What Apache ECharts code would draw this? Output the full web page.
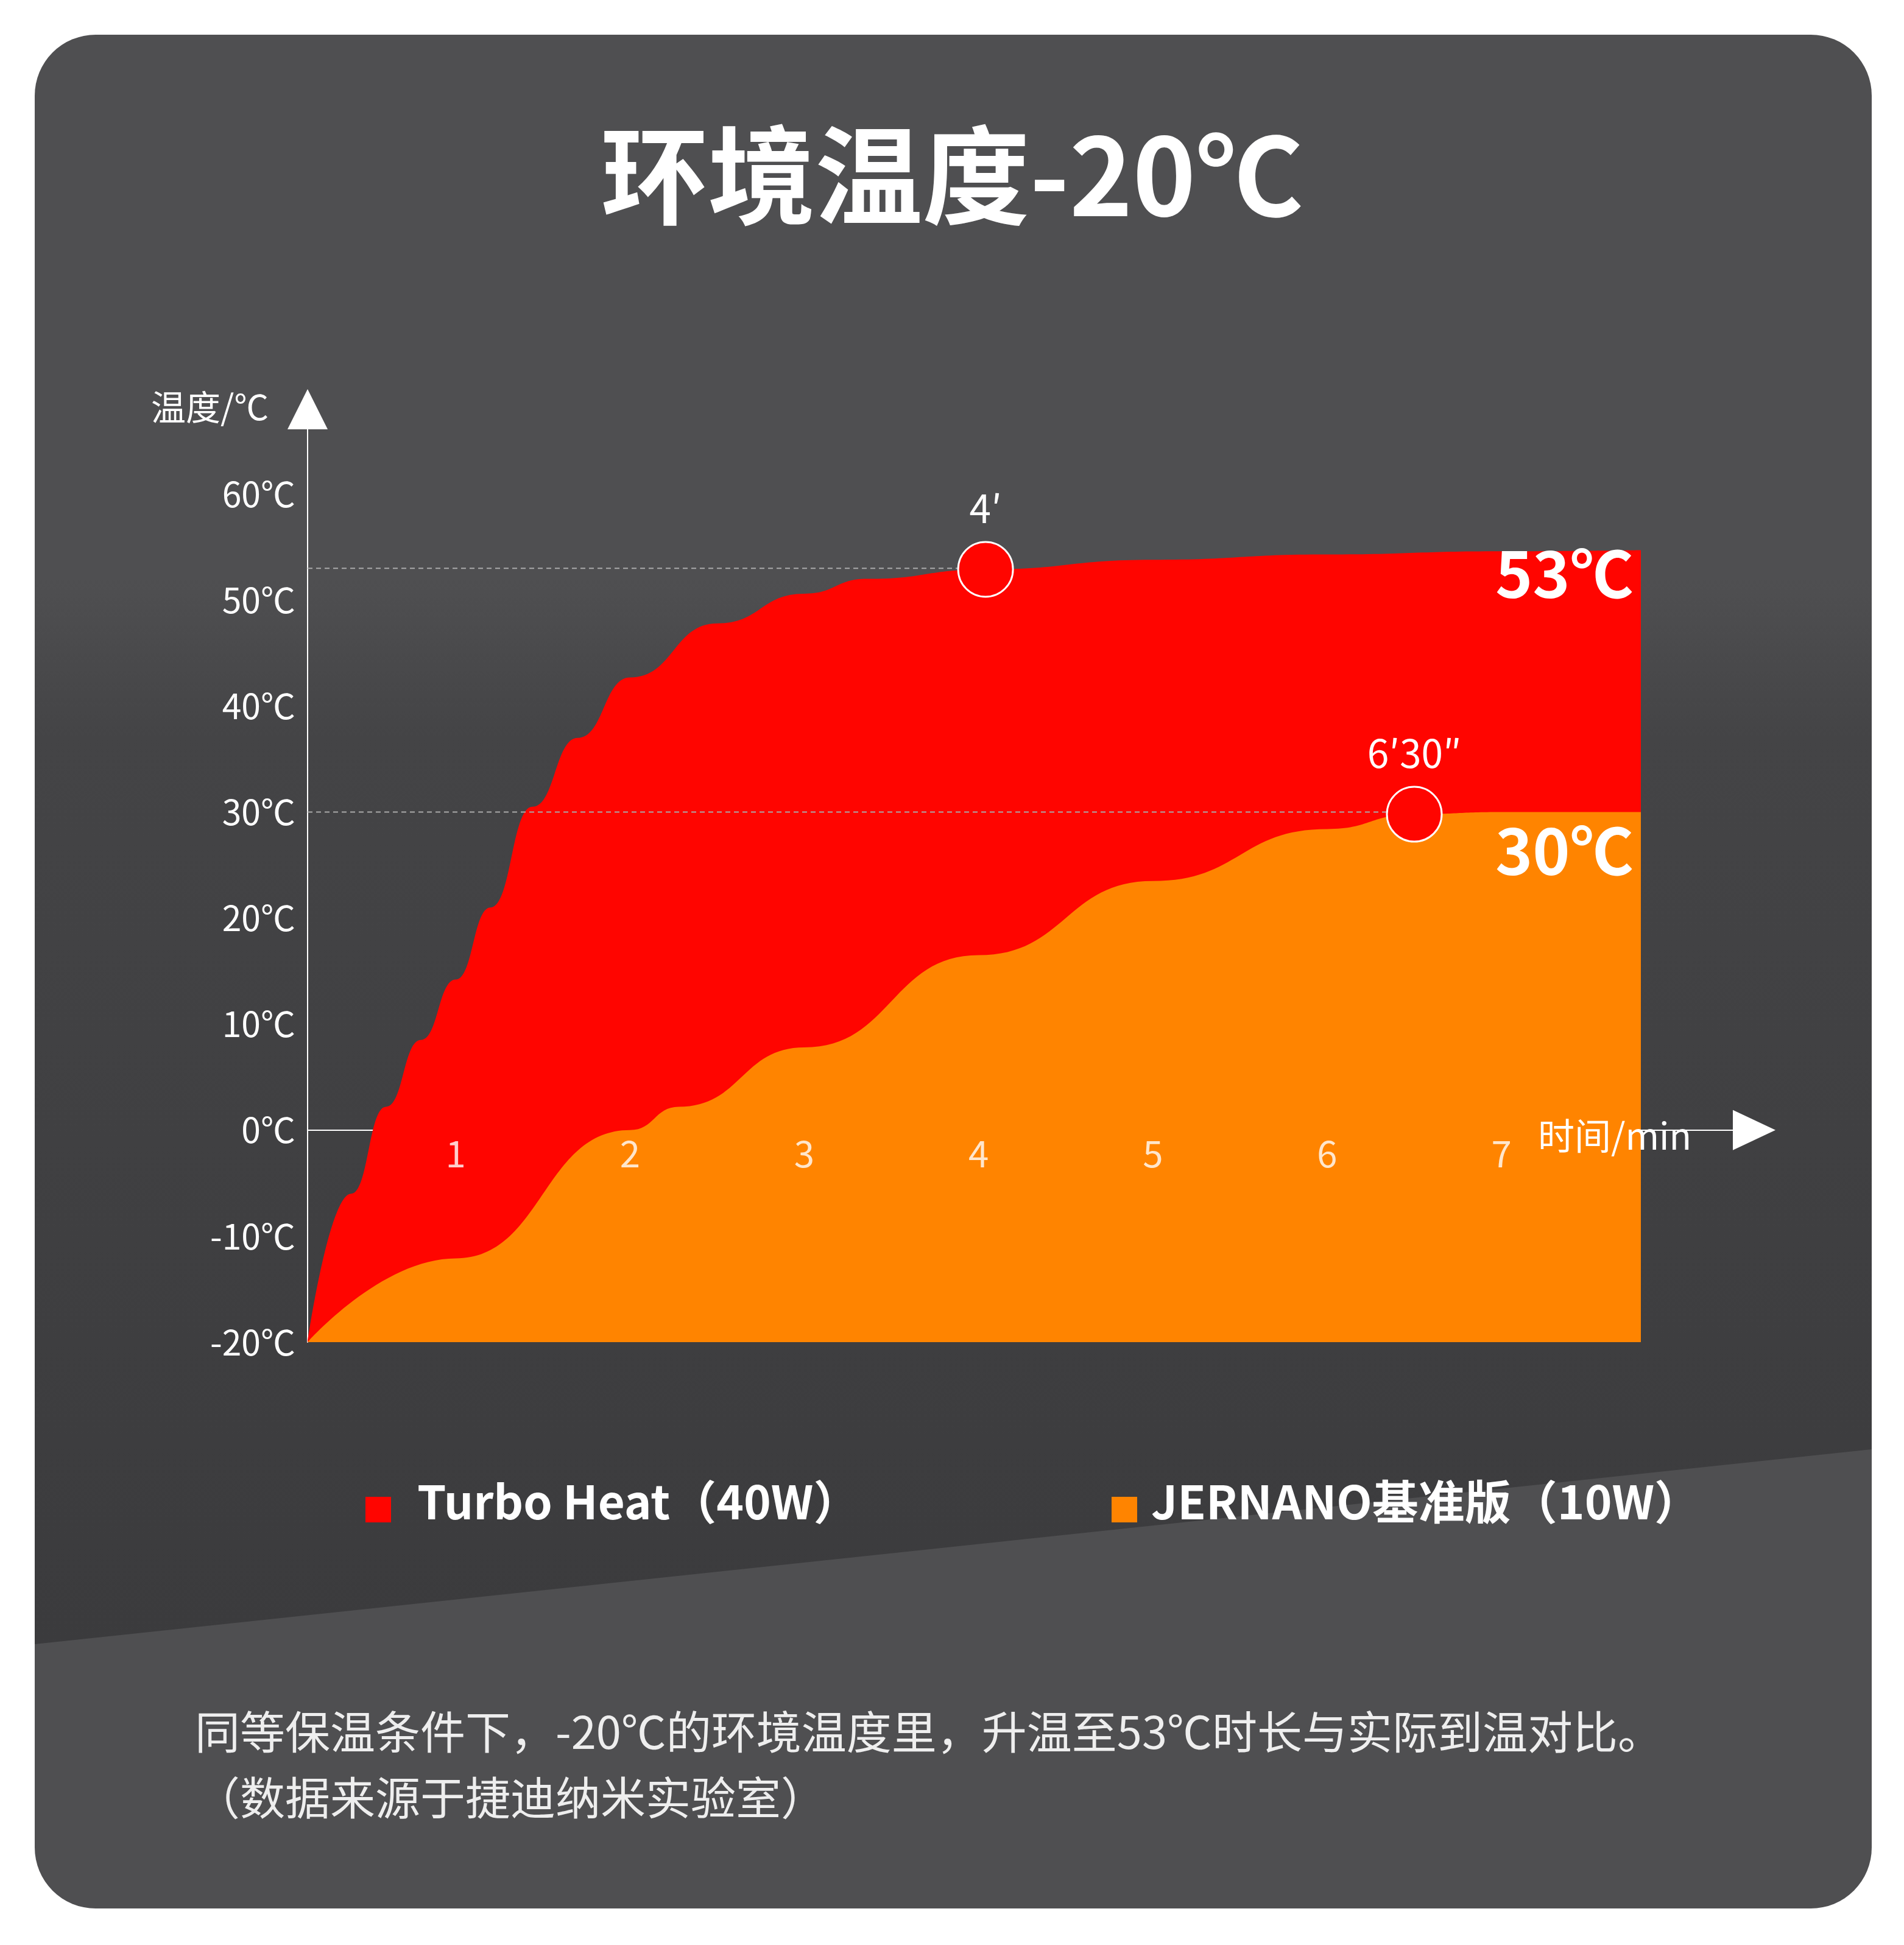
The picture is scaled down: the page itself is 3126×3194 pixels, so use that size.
<!DOCTYPE html>
<html><head><meta charset="utf-8">
<script src="https://cdn.jsdelivr.net/npm/echarts@6/dist/echarts.min.js"></script>
<style>html,body{margin:0;background:#fff}#c{width:3126px;height:3194px}</style>
</head><body><div id="c"></div>
<script>
const turboX = [0.15,0.4,0.6,0.8,1,1.2,1.44,1.7,2,2.5,3,3.36,4.04,5,6,7,7.8];
const turboY = [-20,-6,2.2,8.5,14.2,21,30.5,37,42.7,47.8,50.6,52,52.9,53.8,54.3,54.6,54.7];
const baseX = [0.15,1,2,2.28,3,4,5,6,6.5,7,7.8];
const baseY = [-20,-12.1,0,2.2,7.8,16.5,23.5,28.4,29.8,30,30];
const yTicks = [-20,-10,0,10,20,30,40,50,60];
const xTicks = [1,2,3,4,5,6,7];
const points = [[4.04,52.9,"4′"],[6.5,29.8,"6′30″"]];
const F = '"Noto Sans CJK SC","Noto Sans",sans-serif';
const ch = echarts.init(document.getElementById('c'));
const zip=(a,b)=>a.map((x,i)=>[x,b[i]]);
ch.setOption({
  animation:false,
  backgroundColor:'#fff',
  textStyle:{fontFamily:F},
  grid:{left:505,right:3126-2880,top:672,bottom:3194-2204},
  xAxis:{type:'value',min:0.15,max:8.45,
    axisLine:{onZero:true,lineStyle:{color:'#fff',width:2},symbol:['none','triangle'],symbolSize:[66,70]},
    axisTick:{show:false},splitLine:{show:false},axisLabel:{show:false}},
  yAxis:{type:'value',min:-20,max:68,
    axisLine:{show:true,onZero:false,lineStyle:{color:'#fff',width:2},symbol:['none','triangle'],symbolSize:[66,66]},
    axisTick:{show:false},splitLine:{show:false},
    axisLabel:{customValues:yTicks,color:'#fff',fontSize:57,fontFamily:F,margin:20,formatter:v=>v+'℃'}},
  graphic:[
    {type:'rect',z:-100,shape:{x:57,y:57,width:3016,height:3077,r:100},style:{fill:'#4f4f51'}},
    {type:'polygon',z:-99,shape:{points:[[57,950],[3073,950],[3073,2380],[57,2700]]},style:{fill:new echarts.graphic.LinearGradient(0,0,0,1,[{offset:0,color:'#4f4f51'},{offset:0.15,color:'#444446'},{offset:1,color:'#3b3b3d'}])}},
    {type:'text',left:'center',top:200,style:{text:'环境温度-20℃',fill:'#fff',font:'bold 176px '+F}},
    {type:'text',left:248,top:640,style:{text:'温度/℃',fill:'#fff',font:'57px '+F}},
    {type:'text',z:100,left:2525,top:1835,style:{text:'时间/min',fill:'#fff',font:'60px '+F}},
    {type:'text',z:100,left:2455,top:890,style:{text:'53℃',fill:'#fff',font:'bold 104px '+F}},
    {type:'text',z:100,left:2455,top:1345,style:{text:'30℃',fill:'#fff',font:'bold 104px '+F}},
    {type:'rect',shape:{x:600,y:2458,width:42,height:42},style:{fill:'#ff0500'}},
    {type:'text',left:685,top:2428,style:{text:'Turbo Heat（40W）',fill:'#fff',font:'bold 76px '+F}},
    {type:'rect',shape:{x:1825,y:2458,width:42,height:42},style:{fill:'#ff8400'}},
    {type:'text',left:1890,top:2428,style:{text:'JERNANO基准版（10W）',fill:'#fff',font:'bold 76px '+F}},
    {type:'text',left:320,top:2790,style:{text:'同等保温条件下，-20℃的环境温度里，升温至53℃时长与实际到温对比。\n（数据来源于捷迪纳米实验室）',fill:'#eee',font:'74px '+F,lineHeight:108}}
  ],
  series:[
    {type:'line',smooth:true,smoothMonotone:'x',symbol:'none',data:zip(turboX,turboY),lineStyle:{width:0},areaStyle:{color:'#ff0500',opacity:1,origin:'start'},z:2},
    {type:'line',smooth:true,smoothMonotone:'x',symbol:'none',data:zip(baseX,baseY),lineStyle:{width:0},areaStyle:{color:'#ff8400',opacity:1,origin:'start'},z:3},
    {type:'line',symbol:'none',data:[[0.15,53],[4.04,53]],lineStyle:{color:'#aaa',width:2,type:[8,6]},z:4},
    {type:'line',symbol:'none',data:[[0.15,30],[6.5,30]],lineStyle:{color:'#aaa',width:2,type:[8,6]},z:4},
    {type:'scatter',symbolSize:0,silent:true,data:xTicks.map(x=>[x,0]),z:6,
      label:{show:true,position:'bottom',distance:8,color:'#fff',fontSize:60,fontFamily:F,formatter:p=>p.value[0]+''}},
    {type:'scatter',symbolSize:90,data:points.map(p=>[p[0],p[1]]),z:5,
      itemStyle:{color:'#ff0500',borderColor:'#fff',borderWidth:3,opacity:1},
      label:{show:true,position:'top',distance:22,color:'#fff',fontSize:64,fontFamily:F,formatter:p=>points[p.dataIndex][2]}}
  ]
});
</script></body></html>
